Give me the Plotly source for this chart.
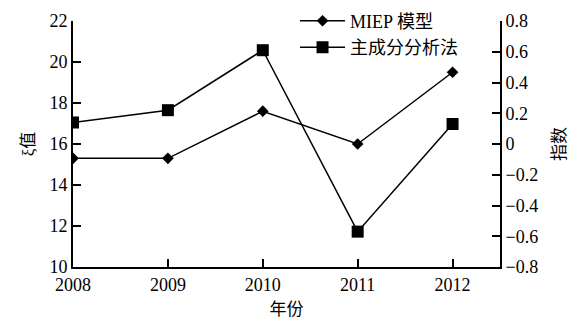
import plotly.graph_objects as go

years = [2008, 2009, 2010, 2011, 2012]
xi_miep = [15.3, 15.3, 17.6, 16.0, 19.5]          # MIEP model, left axis (ξ值)
index_pca = [0.14, 0.22, 0.61, -0.57, 0.13]       # principal component analysis, right axis (指数)

left_ticks = [10, 12, 14, 16, 18, 20, 22]
right_ticks = [0.8, 0.6, 0.4, 0.2, 0, -0.2, -0.4, -0.6, -0.8]
right_labels = ["0.8", "0.6", "0.4", "0.2", "0", "\u22120.2", "\u22120.4", "\u22120.6", "\u22120.8"]

FONT = "Liberation Serif, Times New Roman, Noto Sans CJK SC, serif"
CJK = "Noto Sans CJK SC"

fig = go.Figure()
fig.add_trace(go.Scatter(
    x=years, y=xi_miep, name="MIEP 模型", mode="lines+markers",
    line=dict(color="black", width=1.5),
    marker=dict(symbol="diamond", size=9, color="black"),
    yaxis="y",
))
fig.add_trace(go.Scatter(
    x=years, y=index_pca, name="主成分分析法", mode="lines+markers",
    line=dict(color="black", width=1.5),
    marker=dict(symbol="square", size=12, color="black"),
    yaxis="y2",
))

axis_common = dict(
    showgrid=False, zeroline=False, showline=True, linecolor="black", linewidth=2,
    ticks="inside", ticklen=8, tickwidth=2, tickcolor="black",
    tickfont=dict(family=FONT, size=18, color="black"),
)

fig.update_layout(
    width=580, height=320,
    margin=dict(l=73, r=80, t=21, b=53, autoexpand=False),
    paper_bgcolor="white", plot_bgcolor="white",
    font=dict(family=FONT, color="black"),
    xaxis=dict(
        range=[2008, 2012.5], tickvals=years, ticktext=[str(y) for y in years],
        title=dict(text="年份", font=dict(family=CJK, size=17), standoff=8),
        **axis_common,
    ),
    yaxis=dict(
        range=[10, 22], tickvals=left_ticks,
        title=dict(text="ξ值", font=dict(family=FONT, size=17), standoff=10),
        **axis_common,
    ),
    yaxis2=dict(
        range=[-0.8, 0.8], tickvals=right_ticks, ticktext=right_labels,
        overlaying="y", side="right",
        title=dict(text="指数", font=dict(family=CJK, size=17), standoff=16),
        **axis_common,
    ),
    legend=dict(
        x=0.52, y=1.075, xanchor="left", yanchor="top",
        bgcolor="rgba(0,0,0,0)", itemwidth=45,
        font=dict(family=FONT, size=18, color="black"),
    ),
    showlegend=True,
)

fig.write_html("out.html")
